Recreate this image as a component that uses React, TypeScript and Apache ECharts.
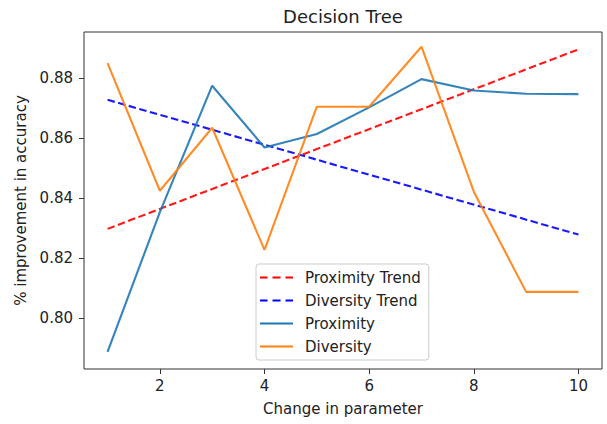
import React, { useEffect, useRef } from "react";
import * as echarts from "echarts";

const xs = [1, 2, 3, 4, 5, 6, 7, 8, 9, 10];
const proximity = [0.7887, 0.8353, 0.8774, 0.8568, 0.8613, 0.8702, 0.8796, 0.8758, 0.8747, 0.8746];
const diversity = [0.8849, 0.8424, 0.8634, 0.8227, 0.8704, 0.8704, 0.8904, 0.8421, 0.8087, 0.8087];
const trendXs = [1, 10];
const proximityTrend = [0.8297, 0.8895];
const diversityTrend = [0.8727, 0.8278];
const xTicks = [2, 4, 6, 8, 10];
const yTicks = [0.8, 0.82, 0.84, 0.86, 0.88];

const pairs = (x: number[], y: number[]) => x.map((v, i) => [v, y[i]]);

const dashIcon = "path://M0,0h7.5v2.2h-7.5z M12.5,0h8v2.2h-8z M25.5,0h7.5v2.2h-7.5z";
const solidIcon = "path://M0,0h33v2.2h-33z";

export default function App() {
  const ref = useRef<HTMLDivElement>(null);
  useEffect(() => {
    if (!ref.current) return;
    const chart = echarts.init(ref.current, null, { renderer: "svg" });
    const font = "DejaVu Sans";
    chart.setOption({
      animation: false,
      textStyle: { fontFamily: font },
      graphic: [
        {
          type: "text",
          x: 343,
          y: 16,
          style: {
            text: "Decision Tree",
            font: `18px ${font}`,
            fill: "#222",
            textAlign: "center",
            textVerticalAlign: "middle",
          },
        },
      ],
      grid: {
        left: 84,
        right: 5,
        top: 32,
        bottom: 55,
        show: true,
        borderColor: "#333",
        borderWidth: 1,
        backgroundColor: "transparent",
      },
      legend: {
        orient: "vertical",
        left: 256,
        top: 264,
        padding: [6, 8, 6, 4],
        itemWidth: 33,
        itemHeight: 2.2,
        itemGap: 8,
        backgroundColor: "rgba(255,255,255,0.8)",
        borderColor: "#ccc",
        borderWidth: 1,
        borderRadius: 3,
        textStyle: { fontFamily: font, fontSize: 15, color: "#222", padding: [0, 0, 0, 7] },
        data: [
          { name: "Proximity Trend", icon: dashIcon },
          { name: "Diversity Trend", icon: dashIcon },
          { name: "Proximity", icon: solidIcon },
          { name: "Diversity", icon: solidIcon },
        ],
      },
      xAxis: {
        type: "value",
        min: 0.55,
        max: 10.45,
        name: "Change in parameter",
        nameLocation: "middle",
        nameGap: 32,
        nameTextStyle: { fontFamily: font, fontSize: 15, color: "#222" },
        axisLine: { show: false },
        splitLine: { show: false },
        axisTick: {
          show: true,
          length: 5,
          customValues: xTicks,
          lineStyle: { color: "#333" },
        },
        axisLabel: {
          customValues: xTicks,
          fontFamily: font,
          fontSize: 15,
          color: "#222",
          margin: 9,
        },
      },
      yAxis: {
        type: "value",
        min: 0.783,
        max: 0.8953,
        name: "% improvement in accuracy",
        nameLocation: "middle",
        nameGap: 53,
        nameTextStyle: { fontFamily: font, fontSize: 15, color: "#222" },
        axisLine: { show: false },
        splitLine: { show: false },
        axisTick: {
          show: true,
          length: 5,
          customValues: yTicks,
          lineStyle: { color: "#333" },
        },
        axisLabel: {
          customValues: yTicks,
          fontFamily: font,
          fontSize: 15,
          color: "#222",
          margin: 11,
          formatter: (v: number) => v.toFixed(2),
        },
      },
      series: [
        {
          name: "Proximity Trend",
          type: "line",
          symbol: "none",
          data: pairs(trendXs, proximityTrend),
          itemStyle: { color: "#ff0000" },
          lineStyle: { color: "#ff0000", width: 2.1, type: [7.5, 3.5], opacity: 0.9 },
        },
        {
          name: "Diversity Trend",
          type: "line",
          symbol: "none",
          data: pairs(trendXs, diversityTrend),
          itemStyle: { color: "#0000ff" },
          lineStyle: { color: "#0000ff", width: 2.1, type: [7.5, 3.5], opacity: 0.9 },
        },
        {
          name: "Proximity",
          type: "line",
          symbol: "none",
          data: pairs(xs, proximity),
          itemStyle: { color: "#1f77b4" },
          lineStyle: { color: "#1f77b4", width: 2.1, opacity: 0.9 },
        },
        {
          name: "Diversity",
          type: "line",
          symbol: "none",
          data: pairs(xs, diversity),
          itemStyle: { color: "#ff7f0e" },
          lineStyle: { color: "#ff7f0e", width: 2.1, opacity: 0.9 },
        },
      ],
    });
    return () => chart.dispose();
  }, []);
  return (
    <div
      ref={ref}
      style={{ position: "fixed", left: 0, top: 0, width: 607, height: 424, background: "#fff" }}
    />
  );
}
